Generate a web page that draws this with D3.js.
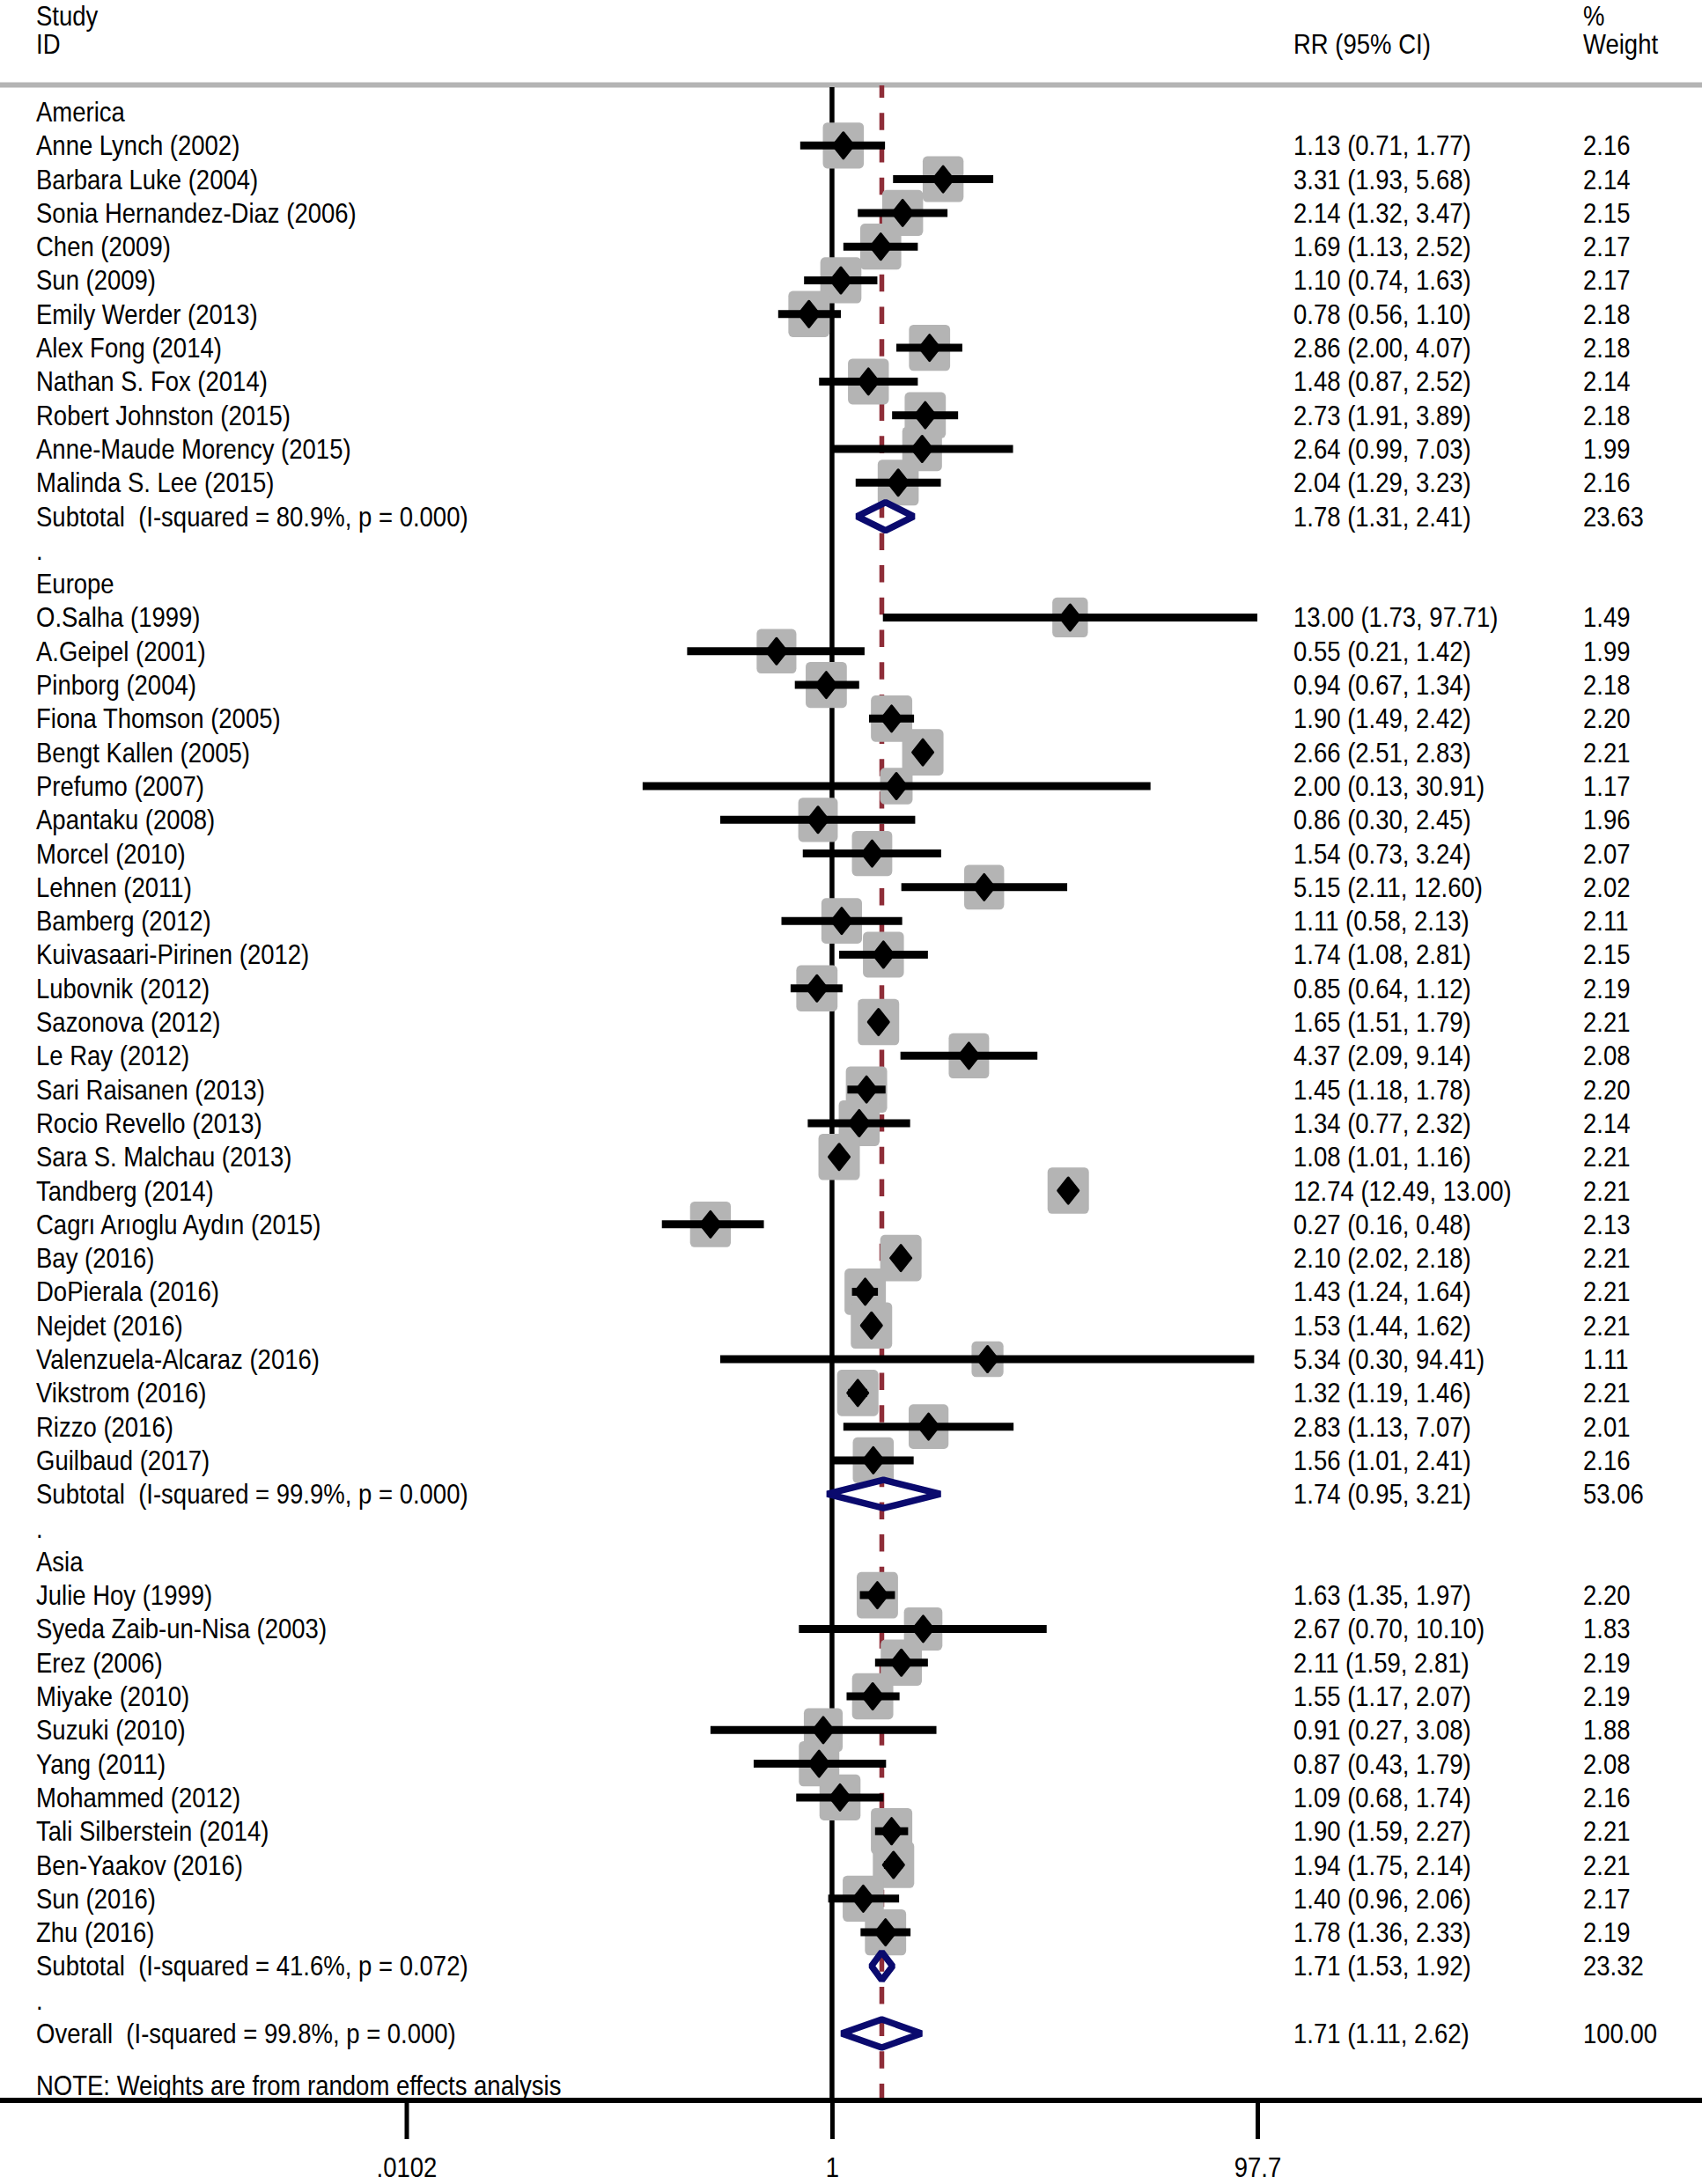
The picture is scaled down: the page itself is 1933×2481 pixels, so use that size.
<!DOCTYPE html>
<html><head><meta charset="utf-8">
<script src="https://cdn.jsdelivr.net/npm/d3@7"></script>
<style>
html,body{margin:0;padding:0;background:#fff;}
svg{display:block;background:#fff;}
text{font-family:"Liberation Sans",Arial,sans-serif;font-size:27.5px;fill:#000;white-space:pre;}
</style>
</head><body>
<svg id="chart" width="1933" height="2481"></svg>
<script>
// ---------------- DATA ----------------
const groups = ["America", "Europe", "Asia"];

const studyNames = [
  "Anne Lynch (2002)", "Barbara Luke (2004)", "Sonia Hernandez-Diaz (2006)", "Chen (2009)", "Sun (2009)",
  "Emily Werder (2013)", "Alex Fong (2014)", "Nathan S. Fox (2014)", "Robert Johnston (2015)",
  "Anne-Maude Morency (2015)", "Malinda S. Lee (2015)",
  "O.Salha (1999)", "A.Geipel (2001)", "Pinborg (2004)", "Fiona Thomson (2005)", "Bengt Kallen (2005)",
  "Prefumo (2007)", "Apantaku (2008)", "Morcel (2010)", "Lehnen (2011)", "Bamberg (2012)",
  "Kuivasaari-Pirinen (2012)", "Lubovnik (2012)", "Sazonova (2012)", "Le Ray (2012)", "Sari Raisanen (2013)",
  "Rocio Revello (2013)", "Sara S. Malchau (2013)", "Tandberg (2014)", "Cagrı Arıoglu Aydın (2015)", "Bay (2016)",
  "DoPierala (2016)", "Nejdet (2016)", "Valenzuela-Alcaraz (2016)", "Vikstrom (2016)", "Rizzo (2016)", "Guilbaud (2017)",
  "Julie Hoy (1999)", "Syeda Zaib-un-Nisa (2003)", "Erez (2006)", "Miyake (2010)", "Suzuki (2010)", "Yang (2011)",
  "Mohammed (2012)", "Tali Silberstein (2014)", "Ben-Yaakov (2016)", "Sun (2016)", "Zhu (2016)"
];
const studyRegion = [
  "America","America","America","America","America","America","America","America","America","America","America",
  "Europe","Europe","Europe","Europe","Europe","Europe","Europe","Europe","Europe","Europe","Europe","Europe","Europe",
  "Europe","Europe","Europe","Europe","Europe","Europe","Europe","Europe","Europe","Europe","Europe","Europe","Europe",
  "Asia","Asia","Asia","Asia","Asia","Asia","Asia","Asia","Asia","Asia","Asia"
];
const rr = [
  1.13, 3.31, 2.14, 1.69, 1.10, 0.78, 2.86, 1.48, 2.73, 2.64, 2.04,
  13.00, 0.55, 0.94, 1.90, 2.66, 2.00, 0.86, 1.54, 5.15, 1.11, 1.74, 0.85, 1.65, 4.37, 1.45,
  1.34, 1.08, 12.74, 0.27, 2.10, 1.43, 1.53, 5.34, 1.32, 2.83, 1.56,
  1.63, 2.67, 2.11, 1.55, 0.91, 0.87, 1.09, 1.90, 1.94, 1.40, 1.78
];
const lower = [
  0.71, 1.93, 1.32, 1.13, 0.74, 0.56, 2.00, 0.87, 1.91, 0.99, 1.29,
  1.73, 0.21, 0.67, 1.49, 2.51, 0.13, 0.30, 0.73, 2.11, 0.58, 1.08, 0.64, 1.51, 2.09, 1.18,
  0.77, 1.01, 12.49, 0.16, 2.02, 1.24, 1.44, 0.30, 1.19, 1.13, 1.01,
  1.35, 0.70, 1.59, 1.17, 0.27, 0.43, 0.68, 1.59, 1.75, 0.96, 1.36
];
const upper = [
  1.77, 5.68, 3.47, 2.52, 1.63, 1.10, 4.07, 2.52, 3.89, 7.03, 3.23,
  97.71, 1.42, 1.34, 2.42, 2.83, 30.91, 2.45, 3.24, 12.60, 2.13, 2.81, 1.12, 1.79, 9.14, 1.78,
  2.32, 1.16, 13.00, 0.48, 2.18, 1.64, 1.62, 94.41, 1.46, 7.07, 2.41,
  1.97, 10.10, 2.81, 2.07, 3.08, 1.79, 1.74, 2.27, 2.14, 2.06, 2.33
];
const weight = [
  2.16, 2.14, 2.15, 2.17, 2.17, 2.18, 2.18, 2.14, 2.18, 1.99, 2.16,
  1.49, 1.99, 2.18, 2.20, 2.21, 1.17, 1.96, 2.07, 2.02, 2.11, 2.15, 2.19, 2.21, 2.08, 2.20,
  2.14, 2.21, 2.21, 2.13, 2.21, 2.21, 2.21, 1.11, 2.21, 2.01, 2.16,
  2.20, 1.83, 2.19, 2.19, 1.88, 2.08, 2.16, 2.21, 2.21, 2.17, 2.19
];

const subtotalLabels = [
  "Subtotal  (I-squared = 80.9%, p = 0.000)",
  "Subtotal  (I-squared = 99.9%, p = 0.000)",
  "Subtotal  (I-squared = 41.6%, p = 0.072)"
];
const subtotalRR = [1.78, 1.74, 1.71];
const subtotalLower = [1.31, 0.95, 1.53];
const subtotalUpper = [2.41, 3.21, 1.92];
const subtotalWeight = [23.63, 53.06, 23.32];

const overallLabel = "Overall  (I-squared = 99.8%, p = 0.000)";
const overallRR = 1.71, overallLower = 1.11, overallUpper = 2.62, overallWeight = 100.00;

const tickValues = [0.0102, 1, 97.7];
const tickLabels = [".0102", "1", "97.7"];

const headerLeft = ["Study", "ID"];
const headerRR = "RR (95% CI)";
const headerWeight = ["%", "Weight"];
const noteText = "NOTE: Weights are from random effects analysis";

// ---------------- LAYOUT ----------------
const W = 1933, H = 2481;
const SY = 1.12;               // vertical stretch of the original rendering
const labelX = 41, rrX = 1469, wX = 1798;
const axisY = 2386;
const fmt = d3.format(".2f");

const rows = [];
let idx = 0;
groups.forEach((g, gi) => {
  rows.push({type: "group", label: g, i: idx++});
  studyNames.forEach((n, k) => {
    if (studyRegion[k] === g) rows.push({type: "study", label: n, rr: rr[k], lo: lower[k], hi: upper[k], w: weight[k], i: idx++});
  });
  rows.push({type: "sub", label: subtotalLabels[gi], rr: subtotalRR[gi], lo: subtotalLower[gi], hi: subtotalUpper[gi], w: subtotalWeight[gi], i: idx++});
  rows.push({type: "dot", label: ".", i: idx++});
});
rows.push({type: "sub", label: overallLabel, rr: overallRR, lo: overallLower, hi: overallUpper, w: overallWeight, i: idx++});

const x = d3.scaleLog().domain([tickValues[0], tickValues[2]]).range([461.5, 1428]);
const y = d3.scaleLinear().domain([0, rows.length - 1]).range([127, 2310]);
const side = d3.scaleSqrt().domain([0, d3.max(weight)]).range([0, 37]);

const svg = d3.select("#chart");
svg.append("rect").attr("width", W).attr("height", H).attr("fill", "#fff");

// header separator
svg.append("rect").attr("x", 0).attr("y", 93.5).attr("width", W).attr("height", 6).attr("fill", "#b4b4b4");

// null line
svg.append("line").attr("x1", x(1)).attr("x2", x(1)).attr("y1", 99).attr("y2", axisY)
  .attr("stroke", "#000").attr("stroke-width", 5.5);

// overall dashed line
svg.append("line").attr("x1", x(overallRR)).attr("x2", x(overallRR)).attr("y1", 97).attr("y2", axisY)
  .attr("stroke", "#8e2d38").attr("stroke-width", 5.5)
  .attr("stroke-dasharray", "19.5,17.2").attr("stroke-dashoffset", 5.4);

const studyRows = rows.filter(d => d.type === "study");

// weight boxes
svg.append("g").selectAll("rect").data(studyRows).join("rect")
  .attr("x", d => x(d.rr) - (side(d.w) + 10) / 2)
  .attr("y", d => y(d.i) - (side(d.w) + 10) * SY / 2)
  .attr("width", d => side(d.w) + 10)
  .attr("height", d => (side(d.w) + 10) * SY)
  .attr("rx", 5).attr("ry", 5.6)
  .attr("fill", "#b4b4b4");

// CI lines
svg.append("g").selectAll("line").data(studyRows).join("line")
  .attr("x1", d => x(d.lo)).attr("x2", d => x(Math.min(d.hi, tickValues[2])))
  .attr("y1", d => y(d.i)).attr("y2", d => y(d.i))
  .attr("stroke", "#000").attr("stroke-width", 9);

// point markers
svg.append("g").selectAll("path").data(studyRows).join("path")
  .attr("transform", d => `translate(${x(d.rr)},${y(d.i)})`)
  .attr("d", "M0,-14.5L11.5,0L0,14.5L-11.5,0Z")
  .attr("fill", "#000").attr("stroke", "#000").attr("stroke-width", 3).attr("stroke-linejoin", "round");

// pooled diamonds
const subRows = rows.filter(d => d.type === "sub");
svg.append("g").selectAll("path").data(subRows).join("path")
  .attr("d", d => {
    const cy = y(d.i), h = 16;
    return `M${x(d.lo)},${cy}L${x(d.rr)},${cy - h}L${x(d.hi)},${cy}L${x(d.rr)},${cy + h}Z`;
  })
  .attr("fill", "none").attr("stroke", "#0a0a6e").attr("stroke-width", 7.5).attr("stroke-linejoin", "bevel");

// axis
const axisG = svg.append("g").attr("transform", `translate(0,${axisY})`)
  .call(d3.axisBottom(x).tickValues(tickValues).tickFormat((d, i) => tickLabels[i]).tickSizeInner(44).tickSizeOuter(0));
axisG.select(".domain").remove();
axisG.attr("font-size", null).attr("font-family", null);
axisG.selectAll(".tick line").attr("stroke", "#000").attr("stroke-width", 5);
axisG.selectAll(".tick text").attr("y", 0).attr("dy", null).attr("fill", "#000")
  .attr("transform", `translate(0,87) scale(1,${SY})`);
svg.append("line").attr("x1", 0).attr("x2", W).attr("y1", axisY).attr("y2", axisY)
  .attr("stroke", "#000").attr("stroke-width", 6);

// text helper
function txt(str, tx, baseline) {
  svg.append("text").attr("transform", `translate(${tx},${baseline}) scale(1,${SY})`).text(str);
}
const base = i => y(i) + 11;

// header
txt(headerLeft[0], labelX, 29);
txt(headerLeft[1], labelX, base(-2));
txt(headerRR, rrX, base(-2));
txt(headerWeight[0], wX, 29);
txt(headerWeight[1], wX, base(-2));

// row texts
rows.forEach(d => {
  txt(d.label, labelX, base(d.i));
  if (d.type === "study" || d.type === "sub") {
    txt(`${fmt(d.rr)} (${fmt(d.lo)}, ${fmt(d.hi)})`, rrX, base(d.i));
    txt(fmt(d.w), wX, base(d.i));
  }
});

txt(noteText, labelX, 2380);
</script>
</body></html>
